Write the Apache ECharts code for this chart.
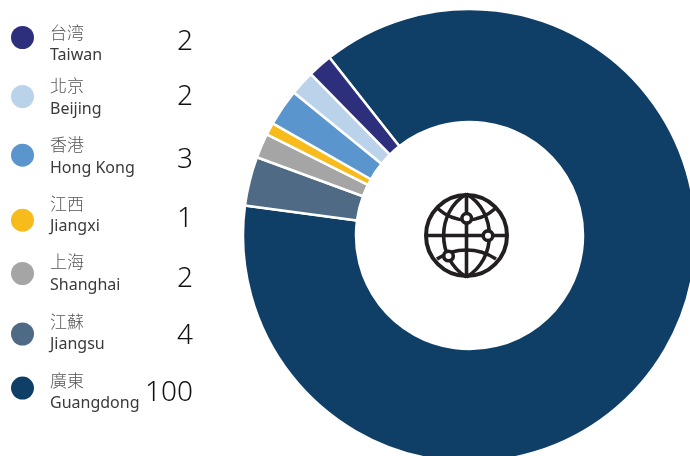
<!DOCTYPE html>
<html>
<head>
<meta charset="utf-8">
<style>html,body{margin:0;padding:0;background:#fff}#main{width:690px;height:456px}</style>
<script src="https://cdn.jsdelivr.net/npm/echarts@6/dist/echarts.min.js"></script>
</head>
<body>
<div id="main"></div>
<script>
// Enterprises by region, listed top to bottom as in the legend
const namesZh = ['台湾', '北京', '香港', '江西', '上海', '江蘇', '廣東'];
const namesEn = ['Taiwan', 'Beijing', 'Hong Kong', 'Jiangxi', 'Shanghai', 'Jiangsu', 'Guangdong'];
const counts = [2, 2, 3, 1, 2, 4, 100];
const colours = ['#2d2f7c', '#bbd3ea', '#5b95cd', '#f7bc1c', '#a5a5a5', '#4e6a84', '#0f3e67'];

// Vertical centres of the legend rows: marker, name block, count
const dotCentres = [38, 97, 155.7, 220.7, 274, 334.5, 388.6];
const textCentres = [44.7, 98, 157, 215.5, 274, 333.5, 392.6];
const valueCentres = [40, 95, 158, 217, 277, 334, 391];

const font = '"Noto Sans", "Noto Sans CJK TC", sans-serif';
const LINE_HEIGHT = 23;

const legends = namesEn.map((en, i) => {
  // Shifting the text inside its box keeps the marker on its own centre line
  const shift = textCentres[i] - dotCentres[i];
  return {
    show: true,
    orient: 'vertical',
    left: 11,
    top: dotCentres[i] - LINE_HEIGHT + Math.max(shift, 0) - Math.max(-shift, 0) + 2.5,
    padding: 0,
    itemWidth: 23,
    itemHeight: 23,
    icon: 'circle',
    itemGap: 0,
    selectedMode: false,
    itemStyle: { borderWidth: 0 },
    data: [en],
    formatter: () => `{zh|${namesZh[i]}}\n{en|${en}}`,
    textStyle: {
      padding: [Math.max(shift * 2, 0), 0, Math.max(-shift * 2, 0), 11],
      rich: {
        zh: { fontFamily: '"Noto Sans CJK TC", sans-serif', fontSize: 17, fontWeight: 300, lineHeight: LINE_HEIGHT, color: '#555' },
        en: { fontFamily: font, fontSize: 16, lineHeight: LINE_HEIGHT, color: '#3a3a3a' }
      }
    }
  };
});

const valueLabels = counts.map((v, i) => ({
  type: 'text',
  style: {
    x: 193,
    y: valueCentres[i] + 2.5,
    text: String(v),
    align: 'right',
    verticalAlign: 'middle',
    font: '300 28px ' + font,
    fill: '#111'
  }
}));

// Globe emblem in the hole of the ring
const globeInk = '#231f20';
const globeStroke = { stroke: globeInk, fill: 'none', lineWidth: 3.6 };
const globeAxes = [[466.5, 194, 466.5, 277], [425, 235.5, 508, 235.5]];
const globeCurves = [
  [466.5, 194, 436, 212, 436, 259, 466.5, 277],
  [466.5, 194, 497, 212, 497, 259, 466.5, 277],
  [437, 208, 455, 224, 478, 224, 496, 208],
  [437, 259, 455, 247, 478, 247, 496, 259]
];
const globeNodes = [[466.7, 218.3], [488, 235.7], [448.5, 256]];
const globe = [
  { type: 'circle', shape: { cx: 466.5, cy: 235.5, r: 40.5 }, style: { ...globeStroke, lineWidth: 4 } },
  ...globeAxes.map(([x1, y1, x2, y2]) => ({ type: 'line', shape: { x1, y1, x2, y2 }, style: globeStroke })),
  ...globeCurves.map(([x1, y1, cpx1, cpy1, cpx2, cpy2, x2, y2]) => ({
    type: 'bezierCurve',
    shape: { x1, y1, cpx1, cpy1, cpx2, cpy2, x2, y2 },
    style: globeStroke
  })),
  ...globeNodes.map(([cx, cy]) => ({
    type: 'circle',
    shape: { cx, cy, r: 4.8 },
    style: { fill: '#fff', stroke: globeInk, lineWidth: 3.6 }
  }))
];

// The ring runs clockwise from Guangdong, the reverse of the legend order
const ringData = namesEn.map((en, i) => ({
  name: en,
  value: counts[i],
  itemStyle: { color: colours[i] }
})).reverse();

const chart = echarts.init(document.getElementById('main'), null, { renderer: 'canvas' });
chart.setOption({
  animation: false,
  backgroundColor: '#fff',
  legend: legends,
  series: [{
    type: 'pie',
    center: [469.5, 235.5],
    radius: [113.5, 226.5],
    startAngle: 128.2,
    silent: true,
    label: { show: false },
    labelLine: { show: false },
    itemStyle: { borderColor: '#fff', borderWidth: 2.5 },
    data: ringData
  }],
  graphic: { elements: [...valueLabels, ...globe] }
});
</script>
</body>
</html>
